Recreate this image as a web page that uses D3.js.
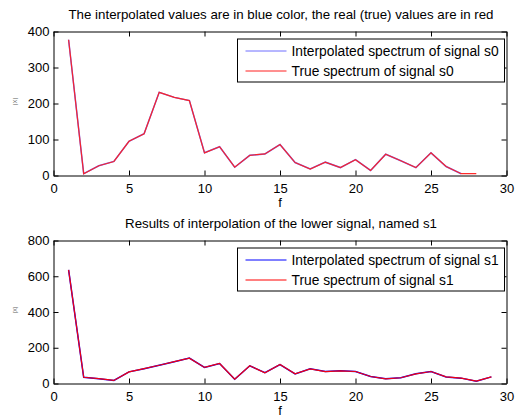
<!DOCTYPE html>
<html><head><meta charset="utf-8">
<script src="https://cdn.jsdelivr.net/npm/d3@7"></script>
<style>body{margin:0;background:#fff}svg{display:block}text{font-family:"Liberation Sans",Arial,sans-serif}</style>
</head><body>
<script>
const freqS0 = d3.range(1, 29);
const interpS0 = [377,5,27,39,95,116,231,217,208,63,80,23,56,60,86,36,18,37,22,44,14,59,41,22,63,25,5];
const trueS0   = [377,5,27,39,95,116,231,217,208,63,80,23,56,60,86,36,18,37,22,44,14,59,41,22,63,25,5,5];
const freqS1 = d3.range(1, 30);
const interpS1 = [636,35,27,17,65,83,102,122,142,90,112,24,99,60,106,54,82,67,71,67,39,26,32,54,67,37,30,13,37];
const trueS1   = [636,35,27,17,65,83,102,122,142,90,112,24,99,60,106,54,82,67,71,67,39,26,32,54,67,37,30,13,37];
const xTicks = [0,5,10,15,20,25,30];
const yTicksTop = [0,100,200,300,400];
const yTicksBot = [0,200,400,600,800];

const W = 518, H = 418;
const svg = d3.select("body").append("svg").attr("width", W).attr("height", H);

function panel(cfg) {
  const x = d3.scaleLinear().domain([0,30]).range([53.5, 506.5]);
  const y = d3.scaleLinear().domain([0, cfg.ymax]).range([cfg.bottom, cfg.top]);
  const g = svg.append("g");
  g.append("text").attr("x", 281).attr("y", cfg.top - 13).attr("text-anchor","middle")
    .attr("font-size", "13.3px").text(cfg.title);
  const ax = [
    d3.axisBottom(x).tickValues(xTicks).tickSizeInner(-5).tickSizeOuter(0).tickPadding(8),
    d3.axisTop(x).tickValues(xTicks).tickSizeInner(-5).tickSizeOuter(0).tickFormat(""),
    d3.axisLeft(y).tickValues(cfg.yTicks).tickSizeInner(-5).tickSizeOuter(0).tickPadding(4),
    d3.axisRight(y).tickValues(cfg.yTicks).tickSizeInner(-5).tickSizeOuter(0).tickFormat("")
  ];
  const pos = [[0,cfg.bottom],[0,cfg.top],[53.5,0],[506.5,0]];
  ax.forEach((a,i)=>{
    const ag = g.append("g").attr("transform",`translate(${pos[i][0]},${pos[i][1]})`).call(a);
    ag.selectAll("path,line").attr("stroke","#000").attr("stroke-width",1);
    ag.selectAll("text").attr("font-size","13px").attr("fill","#000").style("font-family",'"Liberation Sans",Arial,sans-serif');
  });
  g.append("text").attr("x", 280).attr("y", cfg.bottom + 31).attr("text-anchor","middle")
    .attr("font-size","13px").text("f");
  g.append("text").attr("transform",`translate(17,${(cfg.top+cfg.bottom)/2 - 2}) rotate(-90)`)
    .attr("text-anchor","middle").attr("font-size","6px").attr("fill","#555").text("|X|");
  const line = d3.line().x(d=>x(d[0])).y(d=>y(d[1]));
  g.append("path").datum(cfg.interp.map((v,i)=>[cfg.freq[i],v]))
    .attr("d", line).attr("fill","none").attr("stroke", cfg.blue).attr("stroke-width",1.5);
  g.append("path").datum(cfg.truev.map((v,i)=>[cfg.freq[i],v]))
    .attr("d", line).attr("fill","none").attr("stroke", cfg.red).attr("stroke-width",1.2).attr("stroke-opacity",0.95);
  const lx = 237.5, ly = cfg.top + 7.5, lw = 267, lh = 43;
  g.append("rect").attr("x",lx).attr("y",ly).attr("width",lw).attr("height",lh)
    .attr("fill","#fff").attr("stroke","#000").attr("stroke-width",1);
  const items = [[cfg.leg1, cfg.blue],[cfg.leg2, cfg.red]];
  items.forEach((it,i)=>{
    const yy = ly + 12 + i*20;
    g.append("line").attr("x1", lx+8).attr("x2", lx+49).attr("y1", yy).attr("y2", yy)
      .attr("stroke", it[1]).attr("stroke-width",1);
    g.append("text").attr("x", lx+54).attr("y", yy+5).attr("font-size","13.8px").text(it[0]);
  });
}

panel({top:31.5, bottom:175.5, ymax:400, yTicks:yTicksTop,
  title:"The interpolated values are in blue color, the real (true) values are in red",
  freq:freqS0, interp:interpS0, truev:trueS0, blue:"#6f6fff", red:"#ff2020",
  leg1:"Interpolated spectrum of signal s0", leg2:"True spectrum of signal s0"});
panel({top:240.5, bottom:383.5, ymax:800, yTicks:yTicksBot,
  title:"Results of interpolation of the lower signal, named s1",
  freq:freqS1, interp:interpS1, truev:trueS1, blue:"#0000ff", red:"#ff0000",
  leg1:"Interpolated spectrum of signal s1", leg2:"True spectrum of signal s1"});
</script>
</body></html>
